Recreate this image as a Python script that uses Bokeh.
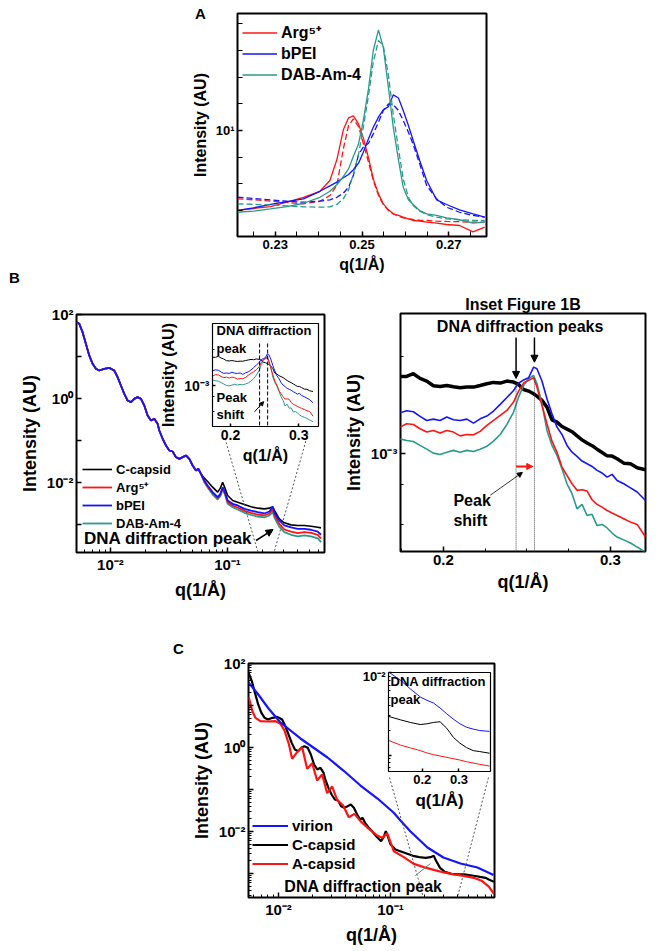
from bokeh.plotting import figure
from bokeh.models import (Range1d, FixedTicker, CustomJSTickFormatter, Legend, LegendItem,
                          Label, Arrow, NormalHead, Column, Div)
from bokeh.embed import file_html
from bokeh.resources import INLINE

FONT = "Liberation Sans"
RED = "#ff1414"
BLUE = "#1414ff"
TEAL = "#2a9a8c"
BLACK = "#000000"

# ---------------- Panel A data ----------------
A_q = [0.2213, 0.2250, 0.2289, 0.2327, 0.2365, 0.2403, 0.2426, 0.2442, 0.2457, 0.2469,
       0.2480, 0.2492, 0.2503, 0.2515, 0.2526, 0.2538, 0.2549, 0.2561, 0.2572, 0.2584,
       0.2595, 0.2607, 0.2618, 0.2633, 0.2649, 0.2672, 0.2695, 0.2725, 0.2756, 0.2783]
arg_data = [4.38, 4.47, 4.56, 4.77, 5.02, 5.34, 5.97, 7.39, 10.07, 11.40, 11.63, 10.71, 9.27, 7.54, 6.07,
            5.20, 4.69, 4.41, 4.23, 4.16, 4.09, 4.02, 3.95, 3.92, 3.88, 3.84, 3.79, 3.75, 3.51, 3.69]
arg_fit = [4.94, 4.89, 4.82, 4.76, 4.69, 4.82, 5.11, 5.67, 8.28, 10.53, 11.28, 10.42, 8.77, 7.21, 5.97,
           5.11, 4.66, 4.38, 4.23, 4.13, 4.06, 4.02, 3.99, 3.96, 3.95, 3.92, 3.91, 3.90, 3.88, 3.88]
bpei_data = [4.38, 4.50, 4.66, 4.80, 4.94, 5.34, 5.65, 5.87, 6.14, 6.35, 6.67, 7.14, 8.00, 9.18, 10.35,
             11.48, 12.38, 12.80, 14.45, 14.00, 12.29, 10.53, 9.02, 7.34, 5.97, 4.89, 4.66, 4.41, 4.23, 4.09]
bpei_fit = [5.02, 4.96, 4.89, 4.82, 4.77, 4.82, 4.89, 5.02, 5.24, 5.57, 6.28, 7.80, 8.42, 8.77, 9.66,
            10.90, 12.29, 13.17, 13.08, 12.29, 11.09, 9.83, 8.66, 7.09, 5.67, 4.94, 4.53, 4.30, 4.16, 4.09]
dab_data = [4.30, 4.35, 4.45, 4.56, 4.72, 5.02, 5.34, 5.71, 6.22, 6.73, 7.64, 8.71, 11.09, 15.37, 22.85,
            28.28, 23.64, 15.54, 10.35, 7.39, 5.57, 4.89, 4.66, 4.38, 4.23, 4.16, 4.06, 3.98, 3.84, 3.88]
dab_fit = [4.69, 4.67, 4.64, 4.59, 4.55, 4.53, 4.55, 4.66, 4.94, 5.41, 6.39, 7.80, 10.35, 14.35, 20.25,
           25.33, 24.05, 17.65, 11.88, 8.28, 6.07, 5.02, 4.61, 4.35, 4.20, 4.09, 4.02, 3.98, 3.95, 3.95]
A_xticks = [0.23, 0.25, 0.27]
A_xminor = [0.225, 0.235, 0.24, 0.245, 0.255, 0.26, 0.265, 0.275]
A_yticks = [10]
A_yminor = [4.375, 5.76, 7.59, 13.17, 17.35, 22.86, 30.1]

# ---------------- Panel B main data ----------------
B_head_q = [0.00517, 0.00542, 0.00578, 0.00617, 0.00659, 0.00704, 0.00752, 0.00803, 0.00886, 0.00977,
            0.01078, 0.01151, 0.01229, 0.01313, 0.01402, 0.01497, 0.01598, 0.01707, 0.01823, 0.01946,
            0.02078, 0.02219, 0.02370, 0.02530, 0.02615, 0.02792, 0.02981, 0.03183, 0.03399, 0.03629,
            0.03875, 0.04138, 0.04418, 0.04718, 0.05037, 0.05379, 0.05631, 0.05935]
B_head_I = [65.7, 59.9, 38.0, 20.0, 10.6, 6.69, 5.09, 4.64, 5.09, 5.37,
            4.64, 3.22, 2.04, 1.29, 0.896, 0.818, 0.982, 1.076, 0.982, 0.681,
            0.394, 0.300, 0.328, 0.249, 0.173, 0.110, 0.076, 0.0578, 0.0547, 0.0401,
            0.0366, 0.0401, 0.0440, 0.0366, 0.0254, 0.0193, 0.0212, 0.0161]
B_tail_q = [0.06337, 0.06767, 0.07466, 0.08241, 0.08684, 0.09093, 0.0952, 0.1003, 0.1107, 0.1222,
            0.1393, 0.1588, 0.1811, 0.2064, 0.2278, 0.2432, 0.2547, 0.2773, 0.3060, 0.3489,
            0.3978, 0.4535, 0.5172, 0.5897, 0.6296]
ccap_tail = [0.01268, 0.01056, 0.00774, 0.00589, 0.00733, 0.01018, 0.00733, 0.0049, 0.00373, 0.0034,
             0.0030, 0.00264, 0.00245, 0.00236, 0.00245, 0.00264, 0.00204, 0.00136, 0.0011, 0.00098,
             0.00095, 0.00095, 0.00091, 0.00086, 0.00083]
bpei_tail = [0.01116, 0.00848, 0.00589, 0.00448, 0.00537, 0.00774, 0.00589, 0.00373, 0.00311, 0.00284,
             0.00236, 0.00215, 0.00197, 0.00183, 0.00204, 0.00264, 0.0018, 0.00125, 0.00095, 0.00085,
             0.00079, 0.00079, 0.00075, 0.00068, 0.00057]
arg_tail = [0.01076, 0.00803, 0.00557, 0.00424, 0.00509, 0.00733, 0.00557, 0.0034, 0.00284, 0.00254,
            0.00211, 0.0019, 0.00173, 0.00164, 0.00183, 0.00228, 0.00158, 0.00104, 0.00076, 0.00068,
            0.00062, 0.00066, 0.00063, 0.00057, 0.00046]
dab_tail = [0.01018, 0.0076, 0.00518, 0.00394, 0.00473, 0.00681, 0.00518, 0.00311, 0.00259, 0.00228,
            0.0019, 0.0017, 0.00155, 0.00147, 0.00164, 0.00197, 0.00136, 0.00088, 0.00066, 0.00057,
            0.00052, 0.00055, 0.00052, 0.00047, 0.00038]
B_q = B_head_q + B_tail_q
ccap_I = B_head_I + ccap_tail
arg_I = B_head_I + arg_tail
bpei_I = B_head_I + bpei_tail
dab_I = B_head_I + dab_tail
B_decades = [1e-3, 1e-2, 1e-1, 1, 10, 100]
B_xticks = [0.01, 0.1]
B_xminor = [0.006, 0.007, 0.008, 0.009, 0.02, 0.03, 0.04, 0.05, 0.06, 0.07, 0.08, 0.09,
            0.2, 0.3, 0.4, 0.5, 0.6]
zoomB_top_q = [0.0952, 0.4875]
zoomB_top_I = [0.1116, 0.1468]
zoomB_bot_q = [0.1824, 0.2495]

# ---------------- Panel B inset data (DNA diffraction peak region) ----------------
In_q = [0.174, 0.178, 0.182, 0.186, 0.190, 0.194, 0.198, 0.202, 0.206, 0.210, 0.214, 0.218, 0.222,
        0.226, 0.230, 0.234, 0.238, 0.242, 0.245, 0.248, 0.251, 0.254, 0.256, 0.259, 0.262, 0.265,
        0.268, 0.271, 0.274, 0.277, 0.280, 0.283, 0.286, 0.289, 0.292, 0.295, 0.298, 0.301, 0.304,
        0.308, 0.312, 0.316, 0.321]
In_ccap = [1.734e-3, 1.734e-3, 1.768e-3, 1.71e-3, 1.678e-3, 1.622e-3, 1.615e-3, 1.626e-3, 1.611e-3,
           1.60e-3, 1.607e-3, 1.607e-3, 1.626e-3, 1.646e-3, 1.662e-3, 1.654e-3, 1.678e-3, 1.666e-3,
           1.638e-3, 1.58e-3, 1.562e-3, 1.532e-3, 1.507e-3, 1.461e-3, 1.393e-3, 1.272e-3, 1.251e-3,
           1.212e-3, 1.19e-3, 1.168e-3, 1.134e-3, 1.102e-3, 1.077e-3, 1.057e-3, 1.031e-3, 1.007e-3,
           0.983e-3, 0.981e-3, 0.963e-3, 0.933e-3, 0.929e-3, 0.903e-3, 0.890e-3]
In_bpei = [1.338e-3, 1.357e-3, 1.347e-3, 1.303e-3, 1.266e-3, 1.278e-3, 1.266e-3, 1.297e-3, 1.272e-3,
           1.266e-3, 1.278e-3, 1.242e-3, 1.281e-3, 1.306e-3, 1.354e-3, 1.42e-3, 1.492e-3, 1.569e-3,
           1.654e-3, 1.69e-3, 1.718e-3, 1.854e-3, 1.832e-3, 1.678e-3, 1.478e-3, 1.328e-3, 1.207e-3,
           1.145e-3, 1.059e-3, 1.009e-3, 0.979e-3, 0.947e-3, 0.929e-3, 0.911e-3, 0.886e-3, 0.869e-3,
           0.844e-3, 0.861e-3, 0.824e-3, 0.805e-3, 0.782e-3, 0.759e-3, 0.714e-3]
In_arg = [1.207e-3, 1.236e-3, 1.230e-3, 1.193e-3, 1.165e-3, 1.179e-3, 1.157e-3, 1.179e-3, 1.165e-3,
          1.134e-3, 1.145e-3, 1.143e-3, 1.171e-3, 1.222e-3, 1.266e-3, 1.312e-3, 1.360e-3, 1.444e-3,
          1.562e-3, 1.654e-3, 1.686e-3, 1.718e-3, 1.607e-3, 1.41e-3, 1.236e-3, 1.092e-3, 1.009e-3,
          0.907e-3, 0.854e-3, 0.805e-3, 0.768e-3, 0.771e-3, 0.764e-3, 0.718e-3, 0.695e-3, 0.681e-3,
          0.665e-3, 0.653e-3, 0.642e-3, 0.627e-3, 0.612e-3, 0.602e-3, 0.550e-3]
In_dab = [1.110e-3, 1.097e-3, 1.089e-3, 1.059e-3, 1.031e-3, 1.002e-3, 0.993e-3, 1.009e-3, 1.022e-3,
          1.009e-3, 1.022e-3, 1.014e-3, 1.031e-3, 1.052e-3, 1.092e-3, 1.145e-3, 1.230e-3, 1.344e-3,
          1.496e-3, 1.626e-3, 1.706e-3, 1.747e-3, 1.646e-3, 1.427e-3, 1.179e-3, 1.059e-3, 0.986e-3,
          0.896e-3, 0.805e-3, 0.75e-3, 0.673e-3, 0.695e-3, 0.642e-3, 0.647e-3, 0.597e-3, 0.602e-3,
          0.587e-3, 0.566e-3, 0.550e-3, 0.539e-3, 0.527e-3, 0.512e-3, 0.494e-3]
peak_q = [0.2435, 0.2545]

# ---------------- Panel C data ----------------
vir_q = [0.0054, 0.0065, 0.00815, 0.01042, 0.0157, 0.0274, 0.038, 0.054, 0.0766, 0.1064,
         0.1228, 0.151, 0.2139, 0.297, 0.4217, 0.598, 0.832]
vir_I = [35.3, 19.3, 8.49, 3.94, 1.64, 0.578, 0.283, 0.1245, 0.061, 0.0283,
         0.0183, 0.0100, 0.00416, 0.0024, 0.00173, 0.00139, 0.00092]
acap_q = [0.00543, 0.00582, 0.00623, 0.00691, 0.00792, 0.0094, 0.01042, 0.01131, 0.01237, 0.01324,
          0.01468, 0.01627, 0.01803, 0.01998, 0.02214, 0.02454, 0.0272, 0.03015, 0.03341, 0.03779,
          0.04246, 0.04771, 0.05397, 0.06408, 0.07603, 0.0842, 0.09337, 0.1071, 0.1315, 0.1615,
          0.1985, 0.2438, 0.2995, 0.3676, 0.4516, 0.5546, 0.6583, 0.7551, 0.8368]
acap_I = [15.79, 7.6, 5.085, 4.24, 4.16, 4.24, 3.66, 2.54, 1.22, 0.537,
          0.774, 1.02, 0.31, 0.424, 0.1637, 0.2276, 0.0818, 0.1178, 0.0567, 0.0416,
          0.02194, 0.02634, 0.01762, 0.01156, 0.00803, 0.00706, 0.00912, 0.0034, 0.00245, 0.0017,
          0.00142, 0.00122, 0.00106, 0.00095, 0.00088, 0.00079, 0.00066, 0.00049, 0.00033]
C_ccap_q = B_q + [0.7051, 0.7551, 0.8368]
C_ccap_I = ccap_I + [0.00079, 0.00072, 0.00064]
C_decades = [1e-3, 1e-2, 1e-1, 1, 10, 100]
C_yminor = [m * d for d in [1e-4, 1e-3, 1e-2, 1e-1, 1, 10] for m in range(2, 10)]
zoomC_top_q = [0.098, 0.75]
zoomC_top_I = [0.193, 0.193]
zoomC_bot_q = [0.197, 0.396]

Cin_q = [0.109, 0.1405, 0.1676, 0.1946, 0.2126, 0.2306, 0.2486, 0.2667, 0.2847, 0.3027,
         0.3207, 0.3387, 0.3568, 0.3838]
Cin_vir = [0.0101, 0.00806, 0.00632, 0.00505, 0.0046, 0.00427, 0.00371, 0.00316, 0.00272, 0.00239,
           0.00217, 0.00206, 0.00198, 0.00193]
Cin_ccap = [0.00293, 0.00267, 0.00248, 0.00234, 0.00239, 0.00248, 0.00253, 0.00211, 0.00164, 0.00139,
            0.00123, 0.00113, 0.0011, 0.00105]
Cin_acap = [0.0015, 0.00132, 0.00122, 0.00113, 0.00106, 0.00101, 0.000972, 0.000937, 0.000902,
            0.000869, 0.000829, 0.000799, 0.00077, 0.000734]

LEFT = 120  # generous left border so every frame sits exactly where intended


# ---------------- helpers ----------------
def log_fmt(show):
    return CustomJSTickFormatter(args=dict(show=show), code="""
const e = Math.round(Math.log10(tick));
if (!show.includes(e)) { return ""; }
const m = {"-": "\u207b", "0": "\u2070", "1": "\u00b9", "2": "\u00b2", "3": "\u00b3", "4": "\u2074"};
return "10" + String(e).split("").map(c => m[c]).join("");
""")


def make_fig(frame, borders, xr, yr, x_type="linear", y_type="log", inset=False):
    fl, ft, fw, fh = frame
    bl, br, bt, bb = borders
    p = figure(frame_width=fw, frame_height=fh, x_axis_type=x_type, y_axis_type=y_type,
               x_range=Range1d(*xr), y_range=Range1d(*yr), output_backend="svg",
               toolbar_location=None, min_border_left=bl, min_border_right=br,
               min_border_top=bt, min_border_bottom=bb)
    p.styles = {"position": "absolute", "left": f"{fl - bl}px", "top": f"{ft - bt}px"}
    p.xgrid.visible = False
    p.ygrid.visible = False
    p.outline_line_color = "black"
    p.outline_line_width = 1.2 if inset else 2
    p.outline_line_alpha = 1
    p.background_fill_color = "white"
    p.border_fill_color = None
    return p


def style_axes(p, tick_px, label_px, xlabel, ylabel, tick_in=5, minor_in=3):
    p.xaxis.axis_label = xlabel
    if ylabel:
        p.yaxis.axis_label = ylabel
    for ax in (p.xaxis[0], p.yaxis[0]):
        ax.axis_line_color = None
        ax.major_tick_in = tick_in
        ax.major_tick_out = 0
        ax.minor_tick_in = minor_in
        ax.minor_tick_out = 0
        ax.major_tick_line_width = 1.5
        ax.minor_tick_line_width = 1
        ax.major_tick_line_color = "black"
        ax.minor_tick_line_color = "black"
        ax.major_label_text_font = FONT
        ax.major_label_text_font_style = "bold"
        ax.major_label_text_font_size = f"{tick_px}px"
        ax.major_label_text_color = "black"
        ax.axis_label_text_font = FONT
        ax.axis_label_text_font_style = "bold"
        ax.axis_label_text_font_size = f"{label_px}px"
        ax.axis_label_text_color = "black"
        ax.major_label_standoff = 3
        ax.axis_label_standoff = 4


def add_label(p, x, y, text, size, align="left", baseline="middle", color="black"):
    p.add_layout(Label(x=x, y=y, text=text, text_font=FONT, text_font_style="bold",
                       text_font_size=f"{size}px", text_align=align, text_baseline=baseline,
                       text_color=color))


def add_arrow(p, x0, y0, x1, y1, color="black", width=1.5, size=8):
    p.add_layout(Arrow(end=NormalHead(size=size, fill_color=color, line_color=color, line_width=1),
                       x_start=x0, y_start=y0, x_end=x1, y_end=y1,
                       line_color=color, line_width=width))


def legend(p, items, loc, size, glyph_w, h):
    lg = Legend(items=[LegendItem(label=t, renderers=[r]) for t, r in items], location=loc,
                border_line_color=None, background_fill_alpha=0, padding=0, margin=0, spacing=0,
                glyph_width=glyph_w, glyph_height=h, label_height=h, label_standoff=4,
                label_text_font=FONT, label_text_font_style="bold",
                label_text_font_size=f"{size}px", label_text_color="black")
    p.add_layout(lg)


def panel_letter(text, left, top):
    return Div(text=text, width=16, height=20,
               styles={"position": "absolute", "left": f"{left}px", "top": f"{top}px",
                       "font-family": FONT, "font-weight": "bold", "font-size": "15px",
                       "color": "black", "line-height": "18px"})


# ---------------- Panel A ----------------
pA = make_fig((237, 13, 249, 223), (LEFT, 10, 13, 55), (0.2213, 0.2787), (3.348, 33.48))
style_axes(pA, 13, 16, "q(1/Å)", "Intensity (AU)", tick_in=5, minor_in=5)
pA.xaxis.ticker = FixedTicker(ticks=A_xticks, minor_ticks=A_xminor)
pA.yaxis.ticker = FixedTicker(ticks=A_yticks, minor_ticks=A_yminor)
pA.yaxis.formatter = log_fmt([1])
rA1 = pA.line(A_q, arg_data, color=RED, line_width=1.3)
pA.line(A_q, arg_fit, color=RED, line_width=1.3, line_dash="6 3")
rA2 = pA.line(A_q, bpei_data, color=BLUE, line_width=1.3)
pA.line(A_q, bpei_fit, color=BLUE, line_width=1.3, line_dash="6 3")
rA3 = pA.line(A_q, dab_data, color=TEAL, line_width=1.3)
pA.line(A_q, dab_fit, color=TEAL, line_width=1.3, line_dash="6 3")
legend(pA, [("Arg⁵⁺", rA1), ("bPEI", rA2), ("DAB-Am-4", rA3)], (5, 151), 16, 35, 21)

# ---------------- Panel B main ----------------
pB = make_fig((76, 314, 248, 238), (LEFT, 6, 40, 60), (0.00513, 0.674), (2.155e-4, 100),
              x_type="log", y_type="log")
style_axes(pB, 15, 18, "q(1/Å)", "Intensity (AU)")
pB.xaxis.ticker = FixedTicker(ticks=B_xticks, minor_ticks=B_xminor)
pB.xaxis.formatter = log_fmt([-2, -1])
pB.yaxis.ticker = FixedTicker(ticks=B_decades)
pB.yaxis.formatter = log_fmt([-2, 0, 2])
rB1 = pB.line(B_q, ccap_I, color=BLACK, line_width=1.6)
rB4 = pB.line(B_q, dab_I, color=TEAL, line_width=1.8)
rB2 = pB.line(B_q, arg_I, color=RED, line_width=1.8)
rB3 = pB.line(B_q, bpei_I, color=BLUE, line_width=1.8)
pB.segment(x0=zoomB_top_q, y0=zoomB_top_I, x1=zoomB_bot_q, y1=[2.155e-4, 2.155e-4],
           line_color="#555555", line_width=1, line_dash="2 2")
legend(pB, [("C-capsid", rB1), ("Arg⁵⁺", rB2), ("bPEI", rB3), ("DAB-Am-4", rB4)], (6, 20), 13, 30, 18)
add_label(pB, 0.00594, 4.64e-4, "DNA diffraction peak", 17)
add_arrow(pB, 0.1754, 4.16e-4, 0.245, 7.6e-4, size=7)

# ---------------- Panel B small inset ----------------
pBi = make_fig((212, 323, 106, 103), (LEFT, 4, 4, 55), (0.1735, 0.329), (4.5e-4, 3.35e-3),
               inset=True)
style_axes(pBi, 14, 16, "q(1/Å)", "Intensity (AU)", tick_in=3, minor_in=2)
pBi.xaxis.ticker = FixedTicker(ticks=[0.2, 0.3])
pBi.yaxis.ticker = FixedTicker(ticks=[1e-3], minor_ticks=[6e-4, 8e-4, 2e-3])
pBi.yaxis.formatter = log_fmt([-3])
pBi.line(In_q, In_ccap, color=BLACK, line_width=1)
pBi.line(In_q, In_dab, color=TEAL, line_width=1)
pBi.line(In_q, In_arg, color=RED, line_width=1)
pBi.line(In_q, In_bpei, color=BLUE, line_width=1)
pBi.segment(x0=[0.2426, 0.2544], y0=[2.27e-3, 2.27e-3], x1=[0.2426, 0.2544], y1=[4.5e-4, 4.5e-4],
            line_color="black", line_width=1, line_dash="4 2")
add_label(pBi, 0.1795, 2.92e-3, "DNA diffraction", 13)
add_label(pBi, 0.1795, 2.06e-3, "peak", 13)
add_label(pBi, 0.1795, 7.91e-4, "Peak", 13)
add_label(pBi, 0.1795, 5.67e-4, "shift", 13)
add_arrow(pBi, 0.2353, 6.0e-4, 0.2485, 7.3e-4, width=1, size=4)

# ---------------- Panel B right (Inset Figure 1B) ----------------
pR = make_fig((400, 313, 245, 238), (LEFT, 6, 30, 60), (0.1743, 0.321), (4.96e-4, 2.72e-3))
style_axes(pR, 15, 18, "q(1/Å)", "Intensity (AU)")
pR.title.text = "Inset Figure 1B"
pR.title.align = "center"
pR.title.text_font = FONT
pR.title.text_font_style = "bold"
pR.title.text_font_size = "16px"
pR.title.text_color = "black"
pR.title.standoff = 2
pR.xaxis.ticker = FixedTicker(ticks=[0.2, 0.3], minor_ticks=[0.175, 0.225, 0.25, 0.275, 0.325])
pR.yaxis.ticker = FixedTicker(ticks=[1e-3], minor_ticks=[4e-4, 6e-4, 8e-4, 2e-3])
pR.yaxis.formatter = log_fmt([-3])
pR.line(In_q, In_ccap, color=BLACK, line_width=3.5)
pR.line(In_q, In_dab, color=TEAL, line_width=1.6)
pR.line(In_q, In_arg, color=RED, line_width=1.6)
pR.line(In_q, In_bpei, color=BLUE, line_width=1.6)
pR.segment(x0=peak_q, y0=[1.65e-3, 1.71e-3], x1=peak_q, y1=[4.96e-4, 4.96e-4],
           line_color="#444444", line_width=1, line_dash="1 1")
add_label(pR, 0.2461, 2.48e-3, "DNA diffraction peaks", 16, align="center")
add_arrow(pR, 0.2435, 2.29e-3, 0.2435, 1.71e-3, size=7)
add_arrow(pR, 0.2545, 2.29e-3, 0.2545, 1.92e-3, size=7)
add_arrow(pR, 0.2435, 9.11e-4, 0.2535, 9.11e-4, color=RED, width=2, size=6)
add_arrow(pR, 0.2281, 7.42e-4, 0.2473, 8.73e-4, width=0.8, size=5)
add_label(pR, 0.206, 7.15e-4, "Peak", 16)
add_label(pR, 0.206, 6.19e-4, "shift", 16)

# ---------------- Panel C main ----------------
pC = make_fig((248, 663, 246, 234), (LEFT, 10, 25, 48), (0.0054, 0.849), (2.685e-4, 100),
              x_type="log", y_type="log")
style_axes(pC, 15, 18, "q(1/Å)", "Intensity (AU)")
pC.xaxis.ticker = FixedTicker(ticks=B_xticks, minor_ticks=B_xminor + [0.7, 0.8])
pC.xaxis.formatter = log_fmt([-2, -1])
pC.yaxis.ticker = FixedTicker(ticks=C_decades, minor_ticks=C_yminor)
pC.yaxis.formatter = log_fmt([-2, 0, 2])
rC2 = pC.line(C_ccap_q, C_ccap_I, color=BLACK, line_width=2.2)
rC3 = pC.line(acap_q, acap_I, color=RED, line_width=2.2)
rC1 = pC.line(vir_q, vir_I, color=BLUE, line_width=2.2)
pC.segment(x0=zoomC_top_q, y0=zoomC_top_I, x1=zoomC_bot_q, y1=[2.685e-4, 2.685e-4],
           line_color="#555555", line_width=1, line_dash="2 2")
pC.segment(x0=[0.167], y0=[8.96e-4], x1=[0.2276], y1=[1.73e-3], line_color="#777777", line_width=1)
legend(pC, [("virion", rC1), ("C-capsid", rC2), ("A-capsid", rC3)], (4, 24), 15, 36, 19)
add_label(pC, 0.0574, 4.9e-4, "DNA diffraction peak", 16, align="center")

# ---------------- Panel C inset ----------------
pCi = make_fig((388, 672, 102, 99), (LEFT, 4, 4, 55), (0.108, 0.386), (6.31e-4, 1.0e-2), inset=True)
style_axes(pCi, 13, 17, "q(1/Å)", "", tick_in=3, minor_in=2)
pCi.xaxis.ticker = FixedTicker(ticks=[0.2, 0.3])
pCi.yaxis.ticker = FixedTicker(ticks=[1e-3, 1e-2],
                               minor_ticks=[2e-3, 3e-3, 4e-3, 5e-3, 6e-3, 7e-3, 8e-3, 9e-3, 7e-4, 8e-4, 9e-4])
pCi.yaxis.formatter = log_fmt([-2])
pCi.line(Cin_q, Cin_vir, color=BLUE, line_width=1)
pCi.line(Cin_q, Cin_ccap, color=BLACK, line_width=1)
pCi.line(Cin_q, Cin_acap, color=RED, line_width=1)
add_label(pCi, 0.1135, 7.76e-3, "DNA diffraction", 13)
add_label(pCi, 0.1135, 4.69e-3, "peak", 13)

letters = [panel_letter("A", 190, 0), panel_letter("B", 4, 264), panel_letter("C", 168, 635)]

root = Column(children=[pA, pB, pR, pBi, pC, pCi] + letters, width=669, height=951,
              styles={"position": "absolute", "left": "0px", "top": "0px"})

open("out.html", "w").write(file_html(root, INLINE))
